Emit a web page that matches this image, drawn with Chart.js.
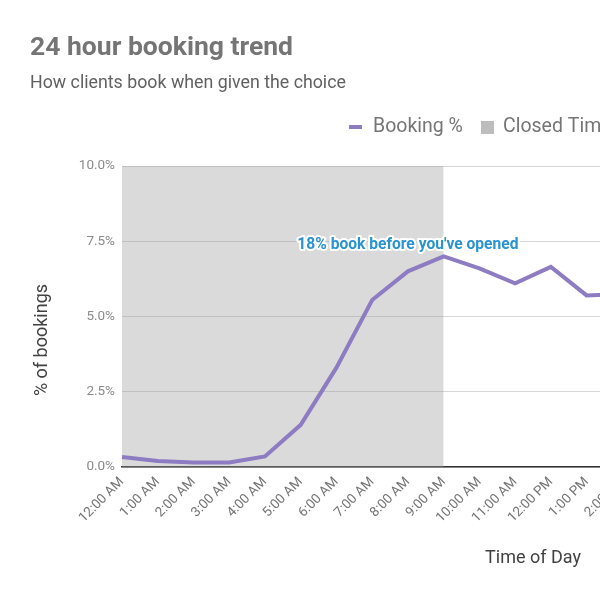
<!DOCTYPE html>
<html>
<head>
<meta charset="utf-8">
<script src="https://cdn.jsdelivr.net/npm/chart.js@4.4.1/dist/chart.umd.min.js"></script>
<style>
html,body{margin:0;padding:0;overflow:hidden;background:#fff;}
#wrap{width:1000px;height:600px;position:relative;}
</style>
</head>
<body>
<div id="wrap"><canvas id="c" width="1000" height="600"></canvas></div>
<script>
const hours = ["12:00 AM","1:00 AM","2:00 AM","3:00 AM","4:00 AM","5:00 AM","6:00 AM","7:00 AM","8:00 AM","9:00 AM","10:00 AM","11:00 AM","12:00 PM","1:00 PM","2:00 PM","3:00 PM","4:00 PM","5:00 PM","6:00 PM","7:00 PM","8:00 PM","9:00 PM","10:00 PM","11:00 PM"];
const bookingPct = [0.33,0.2,0.15,0.15,0.35,1.4,3.3,5.55,6.5,7.0,6.6,6.1,6.65,5.7,5.75,5.5,5.6,5.8,6.0,5.9,5.4,4.6,3.5,1.9];
const closedTime = [10,10,10,10,10,10,10,10,10,10,null,null,null,null,null,null,null,null,null,null,null,null,null,null];
const yTicks = [0,2.5,5,7.5,10];
const chartTitle = "24 hour booking trend";
const chartSubtitle = "How clients book when given the choice";
const legendLabels = ["Booking %","Closed Time"];
const yTitle = "% of bookings";
const xTitle = "Time of Day";
const annotationText = "18% book before you've opened";
const annotationIndex = 8;
const annotationPeakIndex = 9;

const FONT = "Roboto, 'Noto Sans', sans-serif";
const PURPLE = "#8e7cc3";

const textPlugin = {
  id: 'texts',
  afterDraw(chart) {
    const ctx = chart.ctx;
    const ca = chart.chartArea;
    const xs = chart.scales.x, ys = chart.scales.y;
    ctx.save();
    ctx.textBaseline = 'middle';
    ctx.textAlign = 'left';
    ctx.fillStyle = '#757575';
    ctx.font = "bold 26.5px " + FONT;
    ctx.fillText(chartTitle, 30, 48);
    ctx.font = "17.8px " + FONT;
    ctx.fillStyle = '#616161';
    ctx.fillText(chartSubtitle, 30, 84);
    // Legend
    ctx.fillStyle = PURPLE;
    ctx.fillRect(349, 125, 13, 4);
    ctx.fillStyle = '#757575';
    ctx.font = "19.5px " + FONT;
    ctx.fillText(legendLabels[0], 373, 127);
    ctx.fillStyle = '#bdbdbd';
    ctx.fillRect(481, 121, 13, 13);
    ctx.fillStyle = '#757575';
    ctx.fillText(legendLabels[1], 503, 127);
    // Axis titles
    ctx.fillStyle = '#424242';
    ctx.font = "18px " + FONT;
    ctx.textAlign = 'center';
    ctx.fillText(xTitle, (ca.left + ca.right) / 2, 558);
    ctx.save();
    ctx.translate(42, 340);
    ctx.rotate(-Math.PI / 2);
    ctx.fillText(yTitle, 0, 0);
    ctx.restore();
    // Annotation
    const ax = xs.getPixelForValue(annotationIndex);
    const ay = ys.getPixelForValue(bookingPct[annotationPeakIndex]) - 11;
    ctx.font = "bold 15.6px " + FONT;
    ctx.lineJoin = 'round';
    ctx.lineWidth = 4;
    ctx.strokeStyle = '#ffffff';
    ctx.strokeText(annotationText, ax, ay);
    ctx.fillStyle = '#2a93d0';
    ctx.fillText(annotationText, ax, ay);
    ctx.restore();
  }
};

new Chart(document.getElementById('c'), {
  type: 'line',
  data: {
    labels: hours,
    datasets: [
      {
        label: legendLabels[0],
        data: bookingPct,
        borderColor: PURPLE,
        borderWidth: 4,
        pointRadius: 0,
        tension: 0,
        fill: false,
        order: 1
      },
      {
        label: legendLabels[1],
        data: closedTime,
        borderWidth: 0,
        borderColor: 'rgba(0,0,0,0)',
        backgroundColor: 'rgba(158,158,158,0.38)',
        pointRadius: 0,
        fill: 'origin',
        spanGaps: false,
        order: 2
      }
    ]
  },
  options: {
    responsive: false,
    animation: false,
    devicePixelRatio: 1,
    layout: { padding: { top: 166, right: 56, left: 0, bottom: 0 } },
    plugins: {
      legend: { display: false },
      title: { display: false },
      tooltip: { enabled: false }
    },
    scales: {
      x: {
        offset: false,
        afterFit(s) { s.height = 133; },
        grid: { display: false, drawTicks: false },
        border: { display: true, color: '#333333', width: 1.5 },
        ticks: {
          autoSkip: false,
          maxRotation: 45,
          minRotation: 45,
          padding: 7,
          color: '#757575',
          font: { family: FONT, size: 13.5 }
        }
      },
      y: {
        min: 0,
        max: 10,
        afterFit(s) { s.width = 122; },
        afterBuildTicks(s) { s.ticks = yTicks.map(v => ({ value: v })); },
        grid: { color: '#d6d6d6', drawTicks: false },
        border: { display: false },
        ticks: {
          padding: 7,
          color: '#8a8a8a',
          font: { family: FONT, size: 13.5 },
          callback: v => v.toFixed(1) + '%'
        }
      }
    }
  },
  plugins: [textPlugin]
});
</script>
</body>
</html>
